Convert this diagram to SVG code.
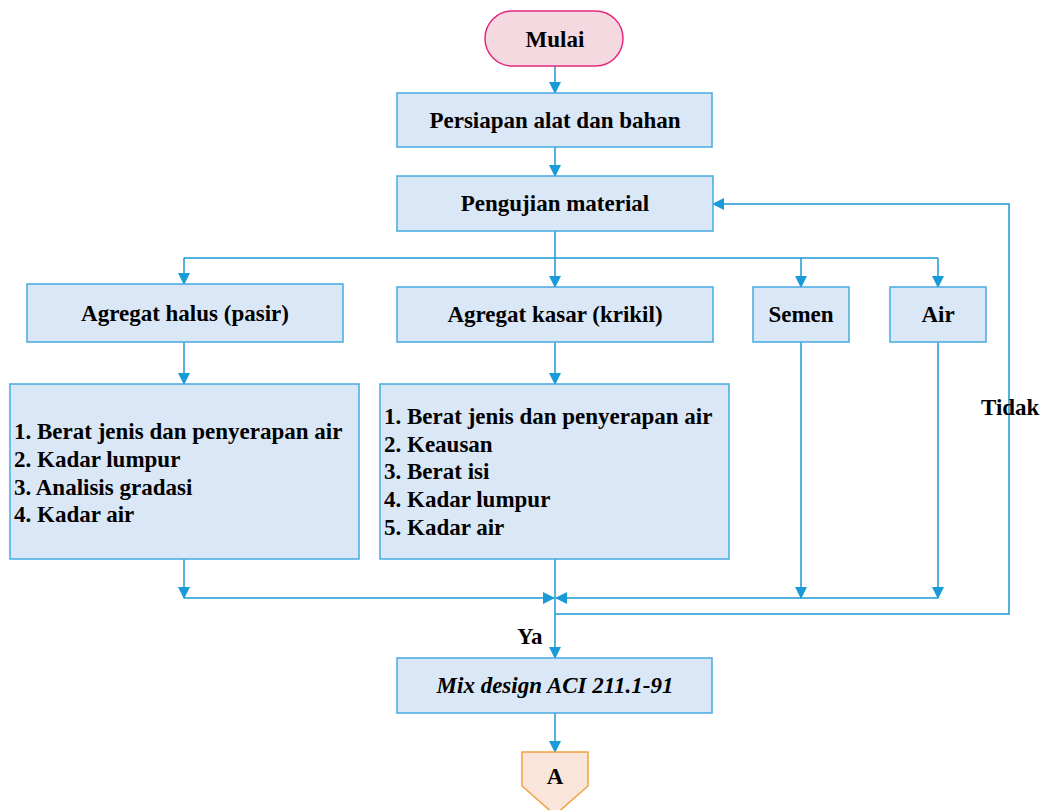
<svg xmlns="http://www.w3.org/2000/svg" width="1047" height="810" viewBox="0 0 1047 810">
<defs>
<marker id="ah" markerUnits="userSpaceOnUse" markerWidth="12" markerHeight="12" viewBox="0 0 12 12" refX="11" refY="6" orient="auto">
<path d="M0,0 L12,6 L0,12 Z" fill="#1a9ad6"/>
</marker>
<style>
.box{fill:#dae7f6;stroke:#45aae2;stroke-width:1.5}
.t{font-family:"Liberation Serif","Times New Roman",serif;font-weight:bold;font-size:23px;fill:#000}
.c{text-anchor:middle}
.ln{fill:none;stroke:#1a9ad6;stroke-width:1.5}
</style>
</defs>
<rect width="1047" height="810" fill="#fff"/>
<g id="connectors">
<path class="ln" d="M555,66 V93" marker-end="url(#ah)"/>
<path class="ln" d="M555,147 V176" marker-end="url(#ah)"/>
<path class="ln" d="M555,231 V287" marker-end="url(#ah)"/>
<path class="ln" d="M184,258 H938"/>
<path class="ln" d="M184,258 V284" marker-end="url(#ah)"/>
<path class="ln" d="M801,258 V287" marker-end="url(#ah)"/>
<path class="ln" d="M938,258 V287" marker-end="url(#ah)"/>
<path class="ln" d="M184,342 V384" marker-end="url(#ah)"/>
<path class="ln" d="M555,342 V384" marker-end="url(#ah)"/>
<path class="ln" d="M184,559 V598" marker-end="url(#ah)"/>
<path class="ln" d="M184,598 H554" marker-end="url(#ah)"/>
<path class="ln" d="M801,342 V598" marker-end="url(#ah)"/>
<path class="ln" d="M938,342 V598" marker-end="url(#ah)"/>
<path class="ln" d="M938,598 H556" marker-end="url(#ah)"/>
<path class="ln" d="M555,559 V658" marker-end="url(#ah)"/>
<path class="ln" d="M555,614 H1009 V204 H713" marker-end="url(#ah)"/>
<path class="ln" d="M555,713 V752" marker-end="url(#ah)"/>
<text class="t" x="517" y="644">Ya</text>
<text class="t" x="981" y="415">Tidak</text>
</g>
<g id="mulai">
<rect x="485" y="11" width="138" height="55" rx="27.5" fill="#f5d9e0" stroke="#e4287e" stroke-width="1.5"/>
<text class="t c" x="555" y="47">Mulai</text>
</g>
<g id="persiapan">
<rect class="box" x="397" y="93" width="315" height="54"/>
<text class="t c" x="555" y="128">Persiapan alat dan bahan</text>
</g>
<g id="pengujian">
<rect class="box" x="397" y="176" width="316" height="55"/>
<text class="t c" x="555" y="211">Pengujian material</text>
</g>
<g id="halus">
<rect class="box" x="27" y="284" width="316" height="58"/>
<text class="t c" x="185" y="321">Agregat halus (pasir)</text>
</g>
<g id="kasar">
<rect class="box" x="397" y="287" width="316" height="55"/>
<text class="t c" x="555" y="322">Agregat kasar (krikil)</text>
</g>
<g id="semen">
<rect class="box" x="753" y="287" width="96" height="55"/>
<text class="t c" x="801" y="322">Semen</text>
</g>
<g id="air">
<rect class="box" x="890" y="287" width="96" height="55"/>
<text class="t c" x="938" y="322">Air</text>
</g>
<g id="uji-halus">
<rect class="box" x="10" y="384" width="349" height="175"/>
<text class="t" x="14" y="439">1. Berat jenis dan penyerapan air</text>
<text class="t" x="14" y="467">2. Kadar lumpur</text>
<text class="t" x="14" y="495">3. Analisis gradasi</text>
<text class="t" x="14" y="522">4. Kadar air</text>
</g>
<g id="uji-kasar">
<rect class="box" x="380" y="384" width="349" height="175"/>
<text class="t" x="384" y="424">1. Berat jenis dan penyerapan air</text>
<text class="t" x="384" y="452">2. Keausan</text>
<text class="t" x="384" y="479">3. Berat isi</text>
<text class="t" x="384" y="507">4. Kadar lumpur</text>
<text class="t" x="384" y="535">5. Kadar air</text>
</g>
<g id="mix">
<rect class="box" x="397" y="658" width="315" height="55"/>
<text class="t c" x="555" y="693" font-style="italic">Mix design ACI 211.1-91</text>
</g>
<g id="a">
<path d="M522,752 H588 V786 L555,815 L522,786 Z" fill="#f9e5da" stroke="#f0a040" stroke-width="1.5"/>
<text class="t c" x="555" y="784">A</text>
</g>
</svg>
